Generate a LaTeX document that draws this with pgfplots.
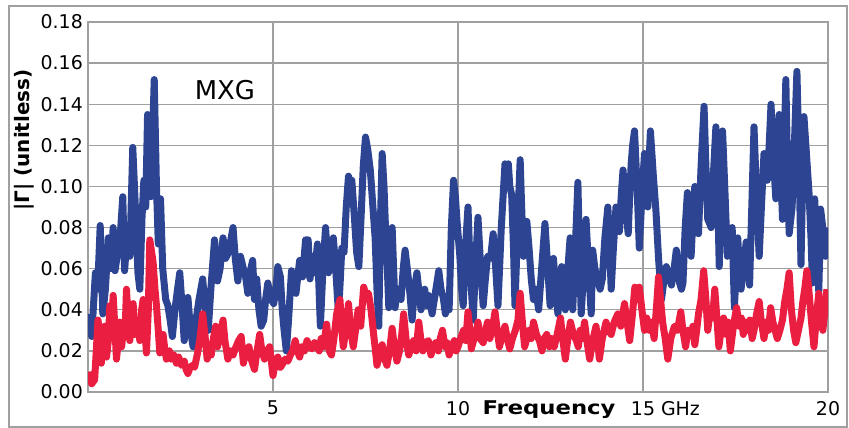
\documentclass[border=0pt]{standalone}
\usepackage{fontspec}
\setmainfont{DejaVu Sans}
\usepackage{pgfplots}
\pgfplotsset{compat=1.18}
\definecolor{mxgblue}{RGB}{44,68,145}
\definecolor{mxgred}{RGB}{234,30,64}
\definecolor{gridgray}{RGB}{160,160,160}
\begin{document}
\begin{tikzpicture}
\useasboundingbox (0,0) rectangle (849bp,428bp);
\draw[gridgray, line width=1.5bp] (9bp,1bp) rectangle (847bp,422bp);
\begin{axis}[
  at={(88bp,36bp)}, anchor=south west,
  width=740bp, height=370bp, scale only axis,
  xmin=0, xmax=20, ymin=0, ymax=0.18,
  xtick={5,10,15,20},
  xticklabels={5,10,15\rlap{ GHz},20},
  ytick={0,0.02,...,0.181},
  yticklabel style={/pgf/number format/fixed, /pgf/number format/fixed zerofill, /pgf/number format/precision=2, xshift=-5bp},
  /pgf/number format/assume math mode=true,
  ticklabel style={font=\fontsize{19}{22}\selectfont, inner sep=0pt},
  xticklabel style={anchor=north, yshift=-9bp},
  major tick length=0pt,
  grid=major,
  major grid style={gridgray, line width=1.3bp},
  axis line style={gridgray, line width=1.3bp},
  xlabel={\scalebox{1.2}[1]{\bfseries Frequency}},
  xlabel style={at={(axis description cs:0.623,0)}, anchor=north, yshift=-9bp, inner sep=0pt, font=\fontsize{19}{22}\selectfont},
  clip=true,
]
% blue trace
\addplot[mxgblue, line width=7bp, line join=round] coordinates {
(0.05,0.038) (0.10,0.027) (0.20,0.058) (0.26,0.050) (0.33,0.081) (0.40,0.038)
(0.47,0.050) (0.55,0.075) (0.62,0.060) (0.68,0.080) (0.73,0.059) (0.78,0.065)
(0.85,0.070) (0.94,0.095) (0.99,0.059) (1.05,0.075) (1.13,0.066) (1.21,0.119)
(1.28,0.090) (1.35,0.058) (1.40,0.050) (1.46,0.085) (1.51,0.103) (1.56,0.090)
(1.61,0.135) (1.66,0.120) (1.70,0.095) (1.79,0.152) (1.85,0.100) (1.90,0.072)
(1.96,0.094) (2.02,0.060) (2.10,0.045) (2.16,0.042) (2.22,0.035) (2.28,0.027)
(2.35,0.040) (2.42,0.050) (2.48,0.058) (2.55,0.040) (2.60,0.025) (2.66,0.035)
(2.70,0.046) (2.77,0.030) (2.84,0.022) (2.92,0.035) (3.00,0.045) (3.10,0.055)
(3.18,0.038) (3.25,0.030) (3.32,0.050) (3.42,0.074) (3.50,0.054) (3.57,0.060)
(3.65,0.075) (3.72,0.065) (3.80,0.068) (3.92,0.080) (3.98,0.065) (4.05,0.054)
(4.12,0.066) (4.20,0.060) (4.26,0.056) (4.32,0.048) (4.40,0.060) (4.45,0.064)
(4.50,0.045) (4.56,0.055) (4.62,0.040) (4.68,0.032) (4.75,0.035) (4.80,0.045)
(4.86,0.053) (4.95,0.045) (5.02,0.043) (5.08,0.050) (5.13,0.061) (5.20,0.056)
(5.25,0.040) (5.30,0.030) (5.36,0.020) (5.42,0.035) (5.50,0.059) (5.56,0.050)
(5.62,0.048) (5.72,0.064) (5.80,0.056) (5.88,0.074) (5.95,0.074) (6.00,0.055)
(6.07,0.066) (6.13,0.058) (6.20,0.072) (6.28,0.032) (6.35,0.060) (6.42,0.080)
(6.50,0.058) (6.57,0.070) (6.63,0.075) (6.68,0.064) (6.77,0.038) (6.82,0.055)
(6.86,0.070) (6.92,0.068) (6.98,0.090) (7.04,0.105) (7.09,0.100) (7.13,0.103)
(7.20,0.085) (7.26,0.068) (7.32,0.061) (7.38,0.085) (7.44,0.110) (7.50,0.124)
(7.56,0.118) (7.63,0.108) (7.70,0.090) (7.76,0.075) (7.81,0.050) (7.86,0.032)
(7.90,0.080) (7.95,0.116) (8.00,0.100) (8.04,0.080) (8.09,0.060) (8.13,0.041)
(8.18,0.065) (8.22,0.080) (8.26,0.060) (8.30,0.041) (8.35,0.050) (8.40,0.050)
(8.46,0.045) (8.52,0.060) (8.57,0.069) (8.63,0.060) (8.70,0.048) (8.76,0.035)
(8.82,0.050) (8.89,0.058) (8.95,0.048) (9.00,0.040) (9.05,0.047) (9.10,0.050)
(9.15,0.042) (9.20,0.047) (9.25,0.043) (9.30,0.038) (9.36,0.045) (9.42,0.052)
(9.48,0.059) (9.54,0.050) (9.60,0.046) (9.66,0.038) (9.71,0.045) (9.76,0.040)
(9.82,0.080) (9.88,0.103) (9.93,0.095) (9.97,0.084) (10.01,0.075) (10.05,0.066)
(10.10,0.050) (10.14,0.042) (10.20,0.070) (10.27,0.090) (10.33,0.060) (10.41,0.035)
(10.47,0.060) (10.54,0.085) (10.60,0.065) (10.68,0.042) (10.74,0.055) (10.80,0.066)
(10.88,0.065) (10.95,0.077) (11.02,0.060) (11.08,0.042) (11.17,0.080) (11.27,0.111)
(11.32,0.108) (11.36,0.111) (11.40,0.100) (11.45,0.096) (11.50,0.070) (11.54,0.042)
(11.61,0.080) (11.68,0.113) (11.72,0.090) (11.77,0.066) (11.82,0.075) (11.86,0.083)
(11.92,0.070) (11.98,0.055) (12.04,0.045) (12.10,0.050) (12.18,0.040) (12.26,0.060)
(12.35,0.082) (12.42,0.062) (12.49,0.042) (12.54,0.055) (12.58,0.065) (12.64,0.050)
(12.70,0.038) (12.75,0.050) (12.80,0.061) (12.85,0.050) (12.90,0.040) (12.97,0.060)
(13.03,0.075) (13.07,0.060) (13.10,0.040) (13.17,0.070) (13.24,0.102) (13.28,0.070)
(13.33,0.038) (13.40,0.060) (13.46,0.084) (13.53,0.060) (13.60,0.038) (13.64,0.069)
(13.70,0.060) (13.78,0.054) (13.84,0.050) (13.90,0.055) (13.97,0.075) (14.05,0.090)
(14.10,0.070) (14.14,0.050) (14.20,0.070) (14.27,0.090) (14.32,0.085) (14.36,0.078)
(14.41,0.095) (14.46,0.108) (14.53,0.090) (14.60,0.077) (14.64,0.095) (14.68,0.111)
(14.72,0.120) (14.77,0.127) (14.84,0.100) (14.90,0.070) (14.97,0.095) (15.04,0.116)
(15.09,0.100) (15.13,0.090) (15.16,0.110) (15.20,0.127) (15.28,0.105) (15.35,0.088)
(15.42,0.065) (15.50,0.045) (15.57,0.055) (15.63,0.061) (15.70,0.056) (15.77,0.052)
(15.84,0.060) (15.90,0.069) (15.95,0.060) (15.99,0.053) (16.04,0.050) (16.08,0.053)
(16.14,0.080) (16.20,0.097) (16.25,0.080) (16.30,0.066) (16.35,0.085) (16.40,0.100)
(16.45,0.090) (16.50,0.077) (16.57,0.110) (16.65,0.139) (16.70,0.110) (16.75,0.084)
(16.80,0.082) (16.84,0.080) (16.90,0.105) (16.97,0.129) (17.02,0.095) (17.06,0.061)
(17.10,0.095) (17.15,0.127) (17.22,0.095) (17.28,0.066) (17.35,0.075) (17.41,0.080)
(17.44,0.060) (17.47,0.041) (17.52,0.060) (17.56,0.075) (17.60,0.062) (17.65,0.050)
(17.72,0.062) (17.79,0.073) (17.84,0.062) (17.88,0.052) (17.94,0.090) (18.00,0.129)
(18.07,0.095) (18.14,0.066) (18.20,0.090) (18.27,0.116) (18.32,0.110) (18.36,0.103)
(18.41,0.120) (18.46,0.140) (18.52,0.115) (18.59,0.094) (18.63,0.115) (18.68,0.135)
(18.72,0.110) (18.77,0.084) (18.82,0.120) (18.86,0.152) (18.90,0.115) (18.95,0.077)
(19.00,0.085) (19.03,0.090) (19.10,0.125) (19.16,0.156) (19.22,0.110) (19.27,0.062)
(19.31,0.100) (19.35,0.134) (19.42,0.115) (19.49,0.096) (19.54,0.075) (19.58,0.053)
(19.61,0.075) (19.64,0.094) (19.70,0.070) (19.75,0.049) (19.78,0.070) (19.80,0.089)
(19.87,0.078) (19.93,0.066) (20.00,0.080)
};
% red trace
\addplot[mxgred, line width=7bp, line join=round] coordinates {
(0.05,0.010) (0.10,0.004) (0.18,0.006) (0.27,0.035) (0.32,0.028) (0.36,0.014)
(0.45,0.032) (0.50,0.017) (0.55,0.025) (0.59,0.042) (0.64,0.030) (0.68,0.047)
(0.73,0.030) (0.77,0.016) (0.82,0.025) (0.86,0.034) (0.91,0.022) (0.95,0.030)
(1.00,0.028) (1.04,0.050) (1.08,0.036) (1.13,0.025) (1.18,0.035) (1.22,0.043)
(1.27,0.028) (1.31,0.030) (1.35,0.035) (1.40,0.025) (1.45,0.040) (1.49,0.045)
(1.54,0.030) (1.58,0.019) (1.63,0.040) (1.67,0.074) (1.72,0.068) (1.76,0.063)
(1.81,0.050) (1.85,0.042) (1.90,0.030) (1.94,0.019) (1.99,0.025) (2.03,0.028)
(2.08,0.020) (2.12,0.016) (2.20,0.020) (2.25,0.016) (2.32,0.018) (2.39,0.014)
(2.45,0.017) (2.52,0.013) (2.60,0.015) (2.65,0.011) (2.70,0.009) (2.76,0.012)
(2.83,0.013) (2.88,0.012) (2.95,0.018) (3.02,0.025) (3.10,0.038) (3.16,0.028)
(3.22,0.016) (3.28,0.020) (3.33,0.018) (3.38,0.025) (3.45,0.032) (3.50,0.022)
(3.55,0.026) (3.60,0.030) (3.65,0.035) (3.70,0.025) (3.78,0.016) (3.85,0.020)
(3.92,0.018) (4.00,0.022) (4.07,0.025) (4.14,0.027) (4.20,0.014) (4.27,0.020)
(4.35,0.022) (4.41,0.016) (4.50,0.011) (4.57,0.020) (4.64,0.028) (4.70,0.020)
(4.77,0.016) (4.84,0.020) (4.91,0.022) (5.00,0.008) (5.07,0.015) (5.13,0.017)
(5.20,0.012) (5.27,0.014) (5.33,0.016) (5.40,0.015) (5.47,0.018) (5.53,0.020)
(5.60,0.025) (5.66,0.020) (5.72,0.017) (5.78,0.022) (5.85,0.020) (5.92,0.025)
(5.98,0.022) (6.05,0.021) (6.12,0.024) (6.18,0.022) (6.25,0.020) (6.30,0.026)
(6.36,0.022) (6.45,0.033) (6.52,0.020) (6.58,0.018) (6.64,0.025) (6.72,0.038)
(6.81,0.045) (6.86,0.030) (6.90,0.022) (6.97,0.030) (7.04,0.043) (7.10,0.030)
(7.17,0.022) (7.23,0.030) (7.30,0.040) (7.37,0.032) (7.45,0.051) (7.52,0.047)
(7.58,0.048) (7.65,0.040) (7.72,0.028) (7.77,0.020) (7.81,0.013) (7.88,0.018)
(7.95,0.023) (8.02,0.016) (8.08,0.013) (8.15,0.020) (8.22,0.031) (8.28,0.022)
(8.35,0.015) (8.42,0.020) (8.48,0.028) (8.53,0.038) (8.60,0.025) (8.67,0.018)
(8.73,0.022) (8.80,0.025) (8.87,0.020) (8.94,0.034) (9.00,0.025) (9.05,0.020)
(9.12,0.024) (9.20,0.025) (9.27,0.018) (9.33,0.022) (9.40,0.024) (9.47,0.020)
(9.52,0.026) (9.58,0.030) (9.65,0.022) (9.70,0.024) (9.76,0.018) (9.83,0.022)
(9.90,0.025) (9.95,0.020) (10.00,0.022) (10.07,0.026) (10.15,0.030) (10.21,0.025)
(10.27,0.039) (10.32,0.030) (10.36,0.021) (10.42,0.025) (10.48,0.028) (10.54,0.034)
(10.60,0.026) (10.68,0.024) (10.74,0.030) (10.80,0.034) (10.86,0.026) (10.92,0.030)
(11.00,0.039) (11.06,0.030) (11.12,0.022) (11.20,0.028) (11.27,0.032) (11.33,0.026)
(11.40,0.021) (11.47,0.026) (11.55,0.030) (11.62,0.035) (11.68,0.048) (11.74,0.034)
(11.80,0.022) (11.86,0.026) (11.92,0.030) (11.98,0.026) (12.04,0.034) (12.12,0.028)
(12.20,0.025) (12.27,0.020) (12.33,0.026) (12.40,0.028) (12.47,0.022) (12.53,0.026)
(12.60,0.022) (12.68,0.028) (12.77,0.036) (12.83,0.026) (12.90,0.016) (12.97,0.026)
(13.04,0.034) (13.12,0.028) (13.20,0.025) (13.25,0.022) (13.30,0.030) (13.36,0.026)
(13.42,0.034) (13.49,0.024) (13.56,0.016) (13.64,0.025) (13.73,0.032) (13.78,0.024)
(13.82,0.016) (13.90,0.026) (14.00,0.034) (14.07,0.030) (14.14,0.028) (14.22,0.034)
(14.32,0.038) (14.40,0.032) (14.50,0.043) (14.57,0.034) (14.64,0.025) (14.70,0.035)
(14.78,0.051) (14.84,0.045) (14.90,0.051) (14.97,0.040) (15.04,0.030) (15.10,0.036)
(15.17,0.030) (15.24,0.034) (15.30,0.026) (15.36,0.040) (15.42,0.056) (15.48,0.044)
(15.53,0.034) (15.60,0.026) (15.67,0.016) (15.75,0.026) (15.85,0.032) (15.93,0.030)
(16.02,0.039) (16.08,0.030) (16.15,0.022) (16.22,0.030) (16.30,0.028) (16.35,0.032)
(16.40,0.023) (16.45,0.030) (16.50,0.038) (16.57,0.045) (16.64,0.059) (16.70,0.045)
(16.75,0.030) (16.82,0.040) (16.88,0.036) (16.94,0.050) (17.00,0.035) (17.05,0.022)
(17.11,0.030) (17.18,0.036) (17.25,0.028) (17.30,0.034) (17.36,0.020) (17.43,0.030)
(17.48,0.036) (17.53,0.041) (17.60,0.032) (17.66,0.036) (17.71,0.028) (17.78,0.034)
(17.84,0.030) (17.89,0.035) (17.95,0.026) (18.00,0.030) (18.07,0.038) (18.14,0.044)
(18.20,0.034) (18.27,0.026) (18.33,0.034) (18.39,0.030) (18.45,0.041) (18.51,0.034)
(18.57,0.030) (18.63,0.026) (18.70,0.030) (18.77,0.035) (18.83,0.044) (18.89,0.050)
(18.95,0.058) (19.01,0.040) (19.07,0.030) (19.13,0.024) (19.20,0.030) (19.27,0.036)
(19.32,0.044) (19.37,0.050) (19.43,0.059) (19.48,0.050) (19.55,0.035) (19.62,0.022)
(19.68,0.035) (19.75,0.048) (19.80,0.038) (19.86,0.030) (19.92,0.040) (19.97,0.050)
};
\node[font=\fontsize{26}{30}\selectfont, inner sep=0pt] at (axis cs:3.7,0.147) {MXG};
\end{axis}
\node[rotate=90, font=\fontsize{20}{24}\selectfont\bfseries, inner sep=0pt] at (24bp,288bp) {|Γ| (unitless)};
\end{tikzpicture}
\end{document}
